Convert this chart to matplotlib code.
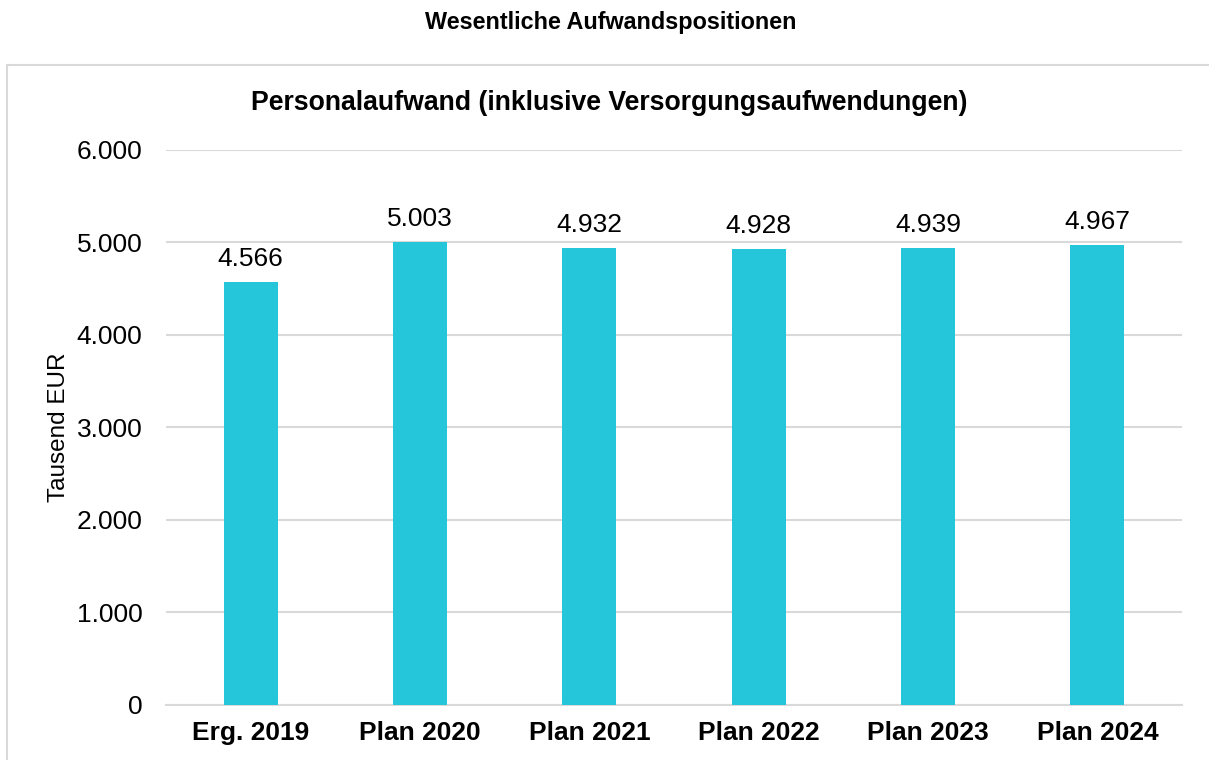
import matplotlib
matplotlib.use("Agg")
import matplotlib.pyplot as plt
from matplotlib.patches import Rectangle

categories = ["Erg. 2019", "Plan 2020", "Plan 2021", "Plan 2022", "Plan 2023", "Plan 2024"]
values = [4566, 5003, 4932, 4928, 4939, 4967]
yticks = [0, 1000, 2000, 3000, 4000, 5000, 6000]
ytick_labels = ["0", "1.000", "2.000", "3.000", "4.000", "5.000", "6.000"]

plt.rcParams['font.family'] = ['Liberation Sans', 'DejaVu Sans']

fig = plt.figure(figsize=(12.09, 7.6), dpi=100)
W, H = 1209, 760

# outer frame
fig.patches.append(Rectangle((7 / W, -0.1), 1.2, 1 - 65 / H + 0.1, transform=fig.transFigure,
                             facecolor='none', edgecolor='#d9d9d9', linewidth=1.5))

fig.text(611 / W, 1 - 22 / H, "Wesentliche Aufwandspositionen", ha='center', va='center',
         fontsize=16.8, fontweight='bold')

ax = fig.add_axes([166 / W, 1 - 704.7 / H, (1182 - 166) / W, (704.7 - 149.5) / H])
x = list(range(len(categories)))
bars = ax.bar(x, values, width=0.32, color='#26C6DA', zorder=3)
ax.set_xlim(-0.5, len(categories) - 0.5)
ax.set_ylim(0, 6000)
ax.set_yticks(yticks)
ax.set_yticklabels(ytick_labels, fontsize=19)
ax.set_xticks(x)
ax.set_xticklabels(categories, fontsize=19, fontweight='bold')
ax.tick_params(axis='both', length=0)
ax.tick_params(axis='y', pad=17)
ax.tick_params(axis='x', pad=12)
ax.grid(axis='y', color='#d9d9d9', linewidth=1.5, zorder=0)
for s in ['top', 'right', 'left']:
    ax.spines[s].set_visible(False)
ax.spines['bottom'].set_color('#d9d9d9')
ax.spines['bottom'].set_linewidth(1.5)

for xi, v in zip(x, values):
    ax.annotate(f"{v:,}".replace(",", "."), (xi, v), xytext=(0, 8), textcoords='offset points',
                ha='center', va='bottom', fontsize=19)

ax.set_ylabel("Tausend EUR", fontsize=17.5, labelpad=5)
fig.text(609 / W, 1 - 103 / H, "Personalaufwand (inklusive Versorgungsaufwendungen)",
         ha='center', va='center', fontsize=19.2, fontweight='bold')

fig.savefig("out.png", dpi=100)
